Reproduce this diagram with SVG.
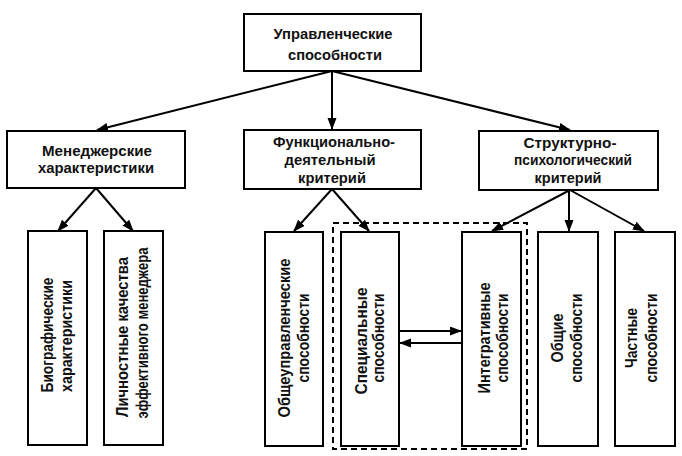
<svg xmlns="http://www.w3.org/2000/svg" width="682" height="456" viewBox="0 0 682 456">
<style>
.box{fill:#fff;stroke:#000;stroke-width:2}
.t{font-family:"Liberation Sans",Arial,sans-serif;font-weight:bold;font-size:15px;fill:#111;text-anchor:middle}
.v{font-family:"Liberation Sans",Arial,sans-serif;font-weight:bold;font-size:16px;fill:#111;text-anchor:middle}
.c{stroke:#000;stroke-width:2;fill:none;marker-end:url(#ah)}
</style>
<defs>
<marker id="ah" markerUnits="userSpaceOnUse" markerWidth="12" markerHeight="10" refX="11" refY="4.5" orient="auto">
<path d="M0,0 L12,4.5 L0,9 z" fill="#000"/>
</marker>
</defs>
<rect width="682" height="456" fill="#fff"/>
<g id="connectors">
<line class="c" x1="332" y1="71" x2="97" y2="130"/>
<line class="c" x1="332" y1="71" x2="332" y2="129"/>
<line class="c" x1="332" y1="71" x2="570" y2="130"/>
<line class="c" x1="96" y1="188" x2="58" y2="231"/>
<line class="c" x1="96" y1="188" x2="133" y2="231"/>
<line class="c" x1="332" y1="189" x2="294" y2="231"/>
<line class="c" x1="332" y1="189" x2="369" y2="231"/>
<line class="c" x1="570" y1="190" x2="492" y2="231"/>
<line class="c" x1="569" y1="190" x2="569" y2="231"/>
<line class="c" x1="570" y1="190" x2="644" y2="231"/>
<line class="c" x1="399" y1="331" x2="461" y2="331"/>
<line class="c" x1="462" y1="343" x2="400" y2="343"/>
</g>
<g id="group-dashed">
<rect x="333" y="223" width="194" height="226" fill="none" stroke="#000" stroke-width="2" stroke-dasharray="6 4"/>
</g>
<g id="n-top">
<rect class="box" x="244" y="14" width="177" height="57"/>
<text class="t" x="333" y="39" textLength="119" lengthAdjust="spacingAndGlyphs">Управленческие</text>
<text class="t" x="335" y="60" textLength="94" lengthAdjust="spacingAndGlyphs">способности</text>
</g>
<g id="n-manager">
<rect class="box" x="7" y="131" width="178" height="57"/>
<text class="t" x="97" y="156" textLength="110" lengthAdjust="spacingAndGlyphs">Менеджерские</text>
<text class="t" x="96" y="173" textLength="116" lengthAdjust="spacingAndGlyphs">характеристики</text>
</g>
<g id="n-func">
<rect class="box" x="244" y="130" width="177" height="59"/>
<text class="t" x="334" y="147" textLength="122" lengthAdjust="spacingAndGlyphs">Функционально-</text>
<text class="t" x="330" y="165" textLength="91" lengthAdjust="spacingAndGlyphs">деятельный</text>
<text class="t" x="332" y="183" textLength="68" lengthAdjust="spacingAndGlyphs">критерий</text>
</g>
<g id="n-struct">
<rect class="box" x="479" y="131" width="179" height="59"/>
<text class="t" x="570" y="148" textLength="93" lengthAdjust="spacingAndGlyphs">Структурно-</text>
<text class="t" x="573" y="165" textLength="118" lengthAdjust="spacingAndGlyphs">психологический</text>
<text class="t" x="568" y="183" textLength="67" lengthAdjust="spacingAndGlyphs">критерий</text>
</g>
<g id="n-bio">
<rect class="box" x="28" y="231" width="59" height="214"/>
<text class="v" transform="translate(53,335) rotate(-90)" textLength="115" lengthAdjust="spacingAndGlyphs">Биографические</text>
<text class="v" transform="translate(72,336) rotate(-90)" textLength="112" lengthAdjust="spacingAndGlyphs">характеристики</text>
</g>
<g id="n-personal">
<rect class="box" x="104" y="231" width="59" height="214"/>
<text class="v" transform="translate(128,337) rotate(-90)" textLength="160" lengthAdjust="spacingAndGlyphs">Личностные качества</text>
<text class="v" transform="translate(148,333) rotate(-90)" textLength="171" lengthAdjust="spacingAndGlyphs">эффективного менеджера</text>
</g>
<g id="n-general-mgmt">
<rect class="box" x="265" y="232" width="58" height="214"/>
<text class="v" transform="translate(290,338) rotate(-90)" textLength="159" lengthAdjust="spacingAndGlyphs">Общеуправленческие</text>
<text class="v" transform="translate(309,338) rotate(-90)" textLength="89" lengthAdjust="spacingAndGlyphs">способности</text>
</g>
<g id="n-special">
<rect class="box" x="341" y="232" width="58" height="214"/>
<text class="v" transform="translate(367,341) rotate(-90)" textLength="107" lengthAdjust="spacingAndGlyphs">Специальные</text>
<text class="v" transform="translate(384,338) rotate(-90)" textLength="89" lengthAdjust="spacingAndGlyphs">способности</text>
</g>
<g id="n-integrative">
<rect class="box" x="462" y="232" width="59" height="214"/>
<text class="v" transform="translate(490,338) rotate(-90)" textLength="111" lengthAdjust="spacingAndGlyphs">Интегративные</text>
<text class="v" transform="translate(508,338) rotate(-90)" textLength="89" lengthAdjust="spacingAndGlyphs">способности</text>
</g>
<g id="n-common">
<rect class="box" x="538" y="232" width="60" height="214"/>
<text class="v" transform="translate(563,338) rotate(-90)" textLength="49" lengthAdjust="spacingAndGlyphs">Общие</text>
<text class="v" transform="translate(582,338) rotate(-90)" textLength="89" lengthAdjust="spacingAndGlyphs">способности</text>
</g>
<g id="n-particular">
<rect class="box" x="615" y="232" width="60" height="214"/>
<text class="v" transform="translate(637,338) rotate(-90)" textLength="60" lengthAdjust="spacingAndGlyphs">Частные</text>
<text class="v" transform="translate(657,338) rotate(-90)" textLength="89" lengthAdjust="spacingAndGlyphs">способности</text>
</g>
</svg>
